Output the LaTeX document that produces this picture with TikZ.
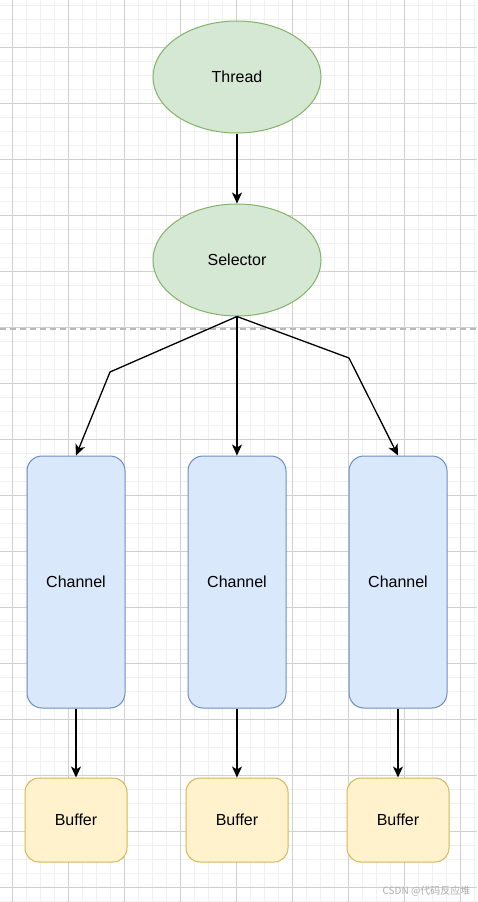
\documentclass[tikz,border=0pt]{standalone}
\usepackage{fontspec}
\setmainfont{Liberation Sans}
\newfontfamily\cjk{Noto Sans CJK SC}
\usetikzlibrary{shapes.geometric,arrows.meta}
\definecolor{greenfill}{HTML}{D5E8D4}
\definecolor{greenline}{HTML}{82B366}
\definecolor{bluefill}{HTML}{DAE8FC}
\definecolor{blueline}{HTML}{6C8EBF}
\definecolor{yellowfill}{HTML}{FFF2CC}
\definecolor{yellowline}{HTML}{D6B656}
\definecolor{gridlo}{HTML}{F0F0F0}
\definecolor{gridhi}{HTML}{D0D0D0}

\begin{document}
\begin{tikzpicture}[x=1pt,y=-1pt,
  every node/.style={font=\fontsize{16}{19}\selectfont,text=black},
  oval/.style={ellipse,draw=greenline,fill=greenfill,line width=1pt,minimum width=168pt,minimum height=112pt,inner sep=0pt},
  chan/.style={rectangle,rounded corners=15pt,draw=blueline,fill=bluefill,line width=1pt,minimum width=98pt,minimum height=252pt,inner sep=0pt},
  buf/.style={rectangle,rounded corners=14pt,draw=yellowline,fill=yellowfill,line width=1pt,minimum width=102pt,minimum height=84pt,inner sep=0pt},
  link/.style={line width=1.3pt,-{Stealth[length=11pt,width=10pt,inset=3pt]}}]
\useasboundingbox (0,0) rectangle (477,902);
\fill[white] (0,0) rectangle (477,902);
% grid
\foreach \gx in {-2,12,...,477} \draw[gridlo,line width=1pt] (\gx,0) -- (\gx,902);
\foreach \gy in {5,19,...,902} \draw[gridlo,line width=1pt] (0,\gy) -- (477,\gy);
\foreach \gx in {12,68,...,477} \draw[gridhi,line width=1pt] (\gx,0) -- (\gx,902);
\foreach \gy in {47,103,...,902} \draw[gridhi,line width=1pt] (0,\gy) -- (477,\gy);
\draw[gray!55,line width=1.2pt,dash pattern=on 6pt off 4pt] (0,329) -- (477,329);

\node[oval] (thread) at (237,77) {Thread};
\node[oval] (selector) at (237,260) {Selector};
\foreach \n/\x in {1/76,2/237,3/398}{
  \node[chan] (chan\n) at (\x,582) {Channel};
  \node[buf] (buf\n) at (\x,820) {Buffer};
  \draw[link] (chan\n.south) -- (buf\n.north);
}
\coordinate (bendL) at (110,372);
\coordinate (bendR) at (349,358);

\draw[link] (thread) -- (selector);
\draw[link] (selector.south) -- (bendL) -- (chan1.north);
\draw[link] (selector.south) -- (chan2.north);
\draw[link] (selector.south) -- (bendR) -- (chan3.north);

\node[font=\cjk\fontsize{10}{12}\selectfont,text=gray!65,anchor=east] (mark) at (474,891) {CSDN @代码反应堆};
\end{tikzpicture}
\end{document}
